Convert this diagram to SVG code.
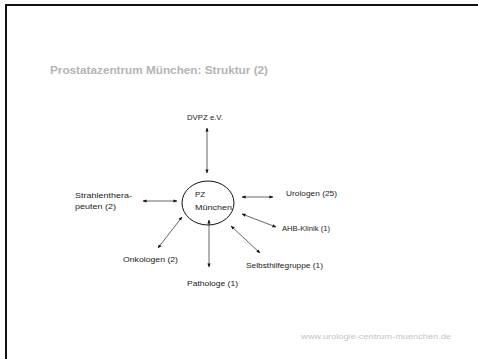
<svg xmlns="http://www.w3.org/2000/svg" width="478" height="359" viewBox="0 0 478 359">
<defs>
<marker id="ah" viewBox="0 0 10 10" refX="9" refY="5" markerWidth="4" markerHeight="4" orient="auto-start-reverse" markerUnits="strokeWidth">
<path d="M0,1 L10,5 L0,9 z" fill="#111"/>
</marker>
<style>
.lbl{font-family:"Liberation Sans",Arial,sans-serif;font-size:8px;fill:#222}
.con{stroke:#666;stroke-width:1;fill:none;marker-start:url(#ah);marker-end:url(#ah)}
</style>
</defs>
<rect x="0" y="0" width="478" height="359" fill="#fff"/>
<path d="M6,359 V5 H478" fill="none" stroke="#111" stroke-width="2"/>
<text x="50" y="74" font-family="'Liberation Sans',Arial,sans-serif" font-size="10" font-weight="bold" fill="#b4b4b4" textLength="218" lengthAdjust="spacingAndGlyphs">Prostatazentrum München: Struktur (2)</text>
<g id="connectors">
<line class="con" x1="207" y1="128" x2="207" y2="173"/>
<line class="con" x1="242" y1="197" x2="273" y2="197"/>
<line class="con" x1="242" y1="214" x2="276" y2="227"/>
<line class="con" x1="231" y1="226" x2="260" y2="253"/>
<line class="con" x1="209" y1="220" x2="209" y2="267"/>
<line class="con" x1="182" y1="217" x2="158" y2="248"/>
<line class="con" x1="143" y1="201" x2="177" y2="201"/>
</g>
<g id="pz">
<ellipse cx="208" cy="203" rx="26" ry="22" fill="none" stroke="#111" stroke-width="1"/>
<text class="lbl" x="195" y="197">PZ</text>
<text class="lbl" x="195" y="210" textLength="37" lengthAdjust="spacingAndGlyphs">München</text>
</g>
<g id="dvpz"><text class="lbl" x="187" y="120" textLength="36" lengthAdjust="spacingAndGlyphs">DVPZ e.V.</text></g>
<g id="urologen"><text class="lbl" x="286" y="196" textLength="51" lengthAdjust="spacingAndGlyphs">Urologen (25)</text></g>
<g id="ahb"><text class="lbl" x="282" y="231" textLength="48" lengthAdjust="spacingAndGlyphs">AHB-Klinik (1)</text></g>
<g id="selbsthilfe"><text class="lbl" x="246" y="268" textLength="77" lengthAdjust="spacingAndGlyphs">Selbsthilfegruppe (1)</text></g>
<g id="pathologe"><text class="lbl" x="187" y="286" textLength="51" lengthAdjust="spacingAndGlyphs">Pathologe (1)</text></g>
<g id="onkologen"><text class="lbl" x="123" y="262" textLength="55" lengthAdjust="spacingAndGlyphs">Onkologen (2)</text></g>
<g id="strahlen">
<text class="lbl" x="75" y="198" textLength="57" lengthAdjust="spacingAndGlyphs">Strahlenthera-</text>
<text class="lbl" x="75" y="209" textLength="41" lengthAdjust="spacingAndGlyphs">peuten (2)</text>
</g>
<text x="301" y="339" font-family="'Liberation Sans',Arial,sans-serif" font-size="7.5" fill="#c4c4c4" textLength="150" lengthAdjust="spacingAndGlyphs">www.urologie-centrum-muenchen.de</text>
</svg>
